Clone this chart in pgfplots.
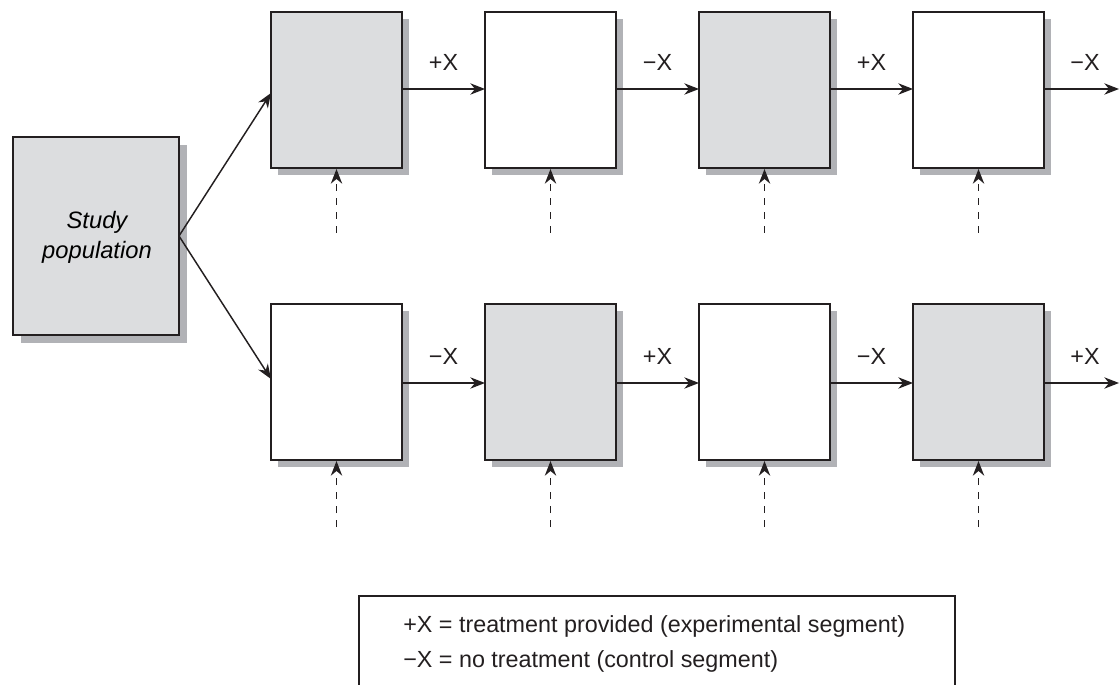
\documentclass[border=0pt]{standalone}
\usepackage{fontspec}
\setmainfont{Liberation Sans}
\usepackage{pgfplots}
\pgfplotsset{compat=1.18}
\usetikzlibrary{arrows.meta}
\definecolor{ink}{RGB}{35,31,32}
\definecolor{boxgray}{RGB}{220,221,223}
\definecolor{shade}{RGB}{177,178,182}

\begin{document}
\begin{tikzpicture}[font=\fontsize{17.5}{21}\selectfont]
\begin{axis}[
    width=840pt, height=513.75pt, scale only axis,
    xmin=0, xmax=1120, ymin=0, ymax=685,
    y dir=reverse,
    hide axis,
    clip=false,
    box/.style={draw=ink, line width=1.15pt},
    shadow/.style={fill=shade, draw=none},
    arr/.style={ink, line width=1.1pt, -{Stealth[length=11pt, width=8.5pt, inset=3.5pt]}},
    darr/.style={ink, line width=1.1pt, dash pattern=on 5.5pt off 5pt, -{Stealth[length=11pt, width=8.5pt, inset=3.5pt]}},
]
% frame that fixes the page size
\addplot[draw=none] coordinates {(0,0) (1120,685)};

% study population
\addplot[shadow] coordinates {(21,145) (187,145) (187,343) (21,343)} -- cycle;
\addplot[box, fill=boxgray] coordinates {(13,137) (179,137) (179,335) (13,335)} -- cycle;
\node[font=\fontsize{17.8}{21}\selectfont\itshape, anchor=base] at (axis cs:97,229) {Study};
\node[font=\fontsize{17.8}{21}\selectfont\itshape, anchor=base] at (axis cs:97,259) {population};

% shadows, top row
\addplot[shadow] coordinates {(278,19) (409,19) (409,175) (278,175)} -- cycle;
\addplot[shadow] coordinates {(492,19) (623,19) (623,175) (492,175)} -- cycle;
\addplot[shadow] coordinates {(706,19) (837,19) (837,175) (706,175)} -- cycle;
\addplot[shadow] coordinates {(920,19) (1051,19) (1051,175) (920,175)} -- cycle;
% shadows, bottom row
\addplot[shadow] coordinates {(278,311) (409,311) (409,467) (278,467)} -- cycle;
\addplot[shadow] coordinates {(492,311) (623,311) (623,467) (492,467)} -- cycle;
\addplot[shadow] coordinates {(706,311) (837,311) (837,467) (706,467)} -- cycle;
\addplot[shadow] coordinates {(920,311) (1051,311) (1051,467) (920,467)} -- cycle;

% top row boxes
\addplot[box, fill=boxgray] coordinates {(271,12) (402,12) (402,168) (271,168)} -- cycle;
\addplot[box, fill=white]   coordinates {(485,12) (616,12) (616,168) (485,168)} -- cycle;
\addplot[box, fill=boxgray] coordinates {(699,12) (830,12) (830,168) (699,168)} -- cycle;
\addplot[box, fill=white]   coordinates {(913,12) (1044,12) (1044,168) (913,168)} -- cycle;
% bottom row boxes
\addplot[box, fill=white]   coordinates {(271,304) (402,304) (402,460) (271,460)} -- cycle;
\addplot[box, fill=boxgray] coordinates {(485,304) (616,304) (616,460) (485,460)} -- cycle;
\addplot[box, fill=white]   coordinates {(699,304) (830,304) (830,460) (699,460)} -- cycle;
\addplot[box, fill=boxgray] coordinates {(913,304) (1044,304) (1044,460) (913,460)} -- cycle;

% branching arrows
\addplot[arr] coordinates {(179,236) (271,93)};
\addplot[arr] coordinates {(179,236) (271,379)};

% horizontal arrows
\addplot[arr] coordinates {(402,89) (485,89)};
\addplot[arr] coordinates {(616,89) (699,89)};
\addplot[arr] coordinates {(830,89) (913,89)};
\addplot[arr] coordinates {(1044,89) (1119,89)};
\addplot[arr] coordinates {(402,383) (485,383)};
\addplot[arr] coordinates {(616,383) (699,383)};
\addplot[arr] coordinates {(830,383) (913,383)};
\addplot[arr] coordinates {(1044,383) (1119,383)};

% dashed arrows from below
\addplot[darr] coordinates {(336.5,233) (336.5,169)};
\addplot[darr] coordinates {(550.5,233) (550.5,169)};
\addplot[darr] coordinates {(764.5,233) (764.5,169)};
\addplot[darr] coordinates {(978.5,233) (978.5,169)};
\addplot[darr] coordinates {(336.5,527) (336.5,461)};
\addplot[darr] coordinates {(550.5,527) (550.5,461)};
\addplot[darr] coordinates {(764.5,527) (764.5,461)};
\addplot[darr] coordinates {(978.5,527) (978.5,461)};

% labels
\node[ink] at (axis cs:443.5,62) {+X};
\node[ink] at (axis cs:657.5,62) {−X};
\node[ink] at (axis cs:871.5,62) {+X};
\node[ink] at (axis cs:1085,62) {−X};
\node[ink] at (axis cs:443.5,356) {−X};
\node[ink] at (axis cs:657.5,356) {+X};
\node[ink] at (axis cs:871.5,356) {−X};
\node[ink] at (axis cs:1085,356) {+X};

% key
\addplot[ink, line width=1.1pt] coordinates {(359,684.5) (359,596) (955,596) (955,684.5)};
\node[ink, anchor=base west, inner sep=0pt] at (axis cs:403,632) {+X = treatment provided (experimental segment)};
\node[ink, anchor=base west, inner sep=0pt] at (axis cs:403,667) {−X = no treatment (control segment)};
\end{axis}
\end{tikzpicture}
\end{document}
